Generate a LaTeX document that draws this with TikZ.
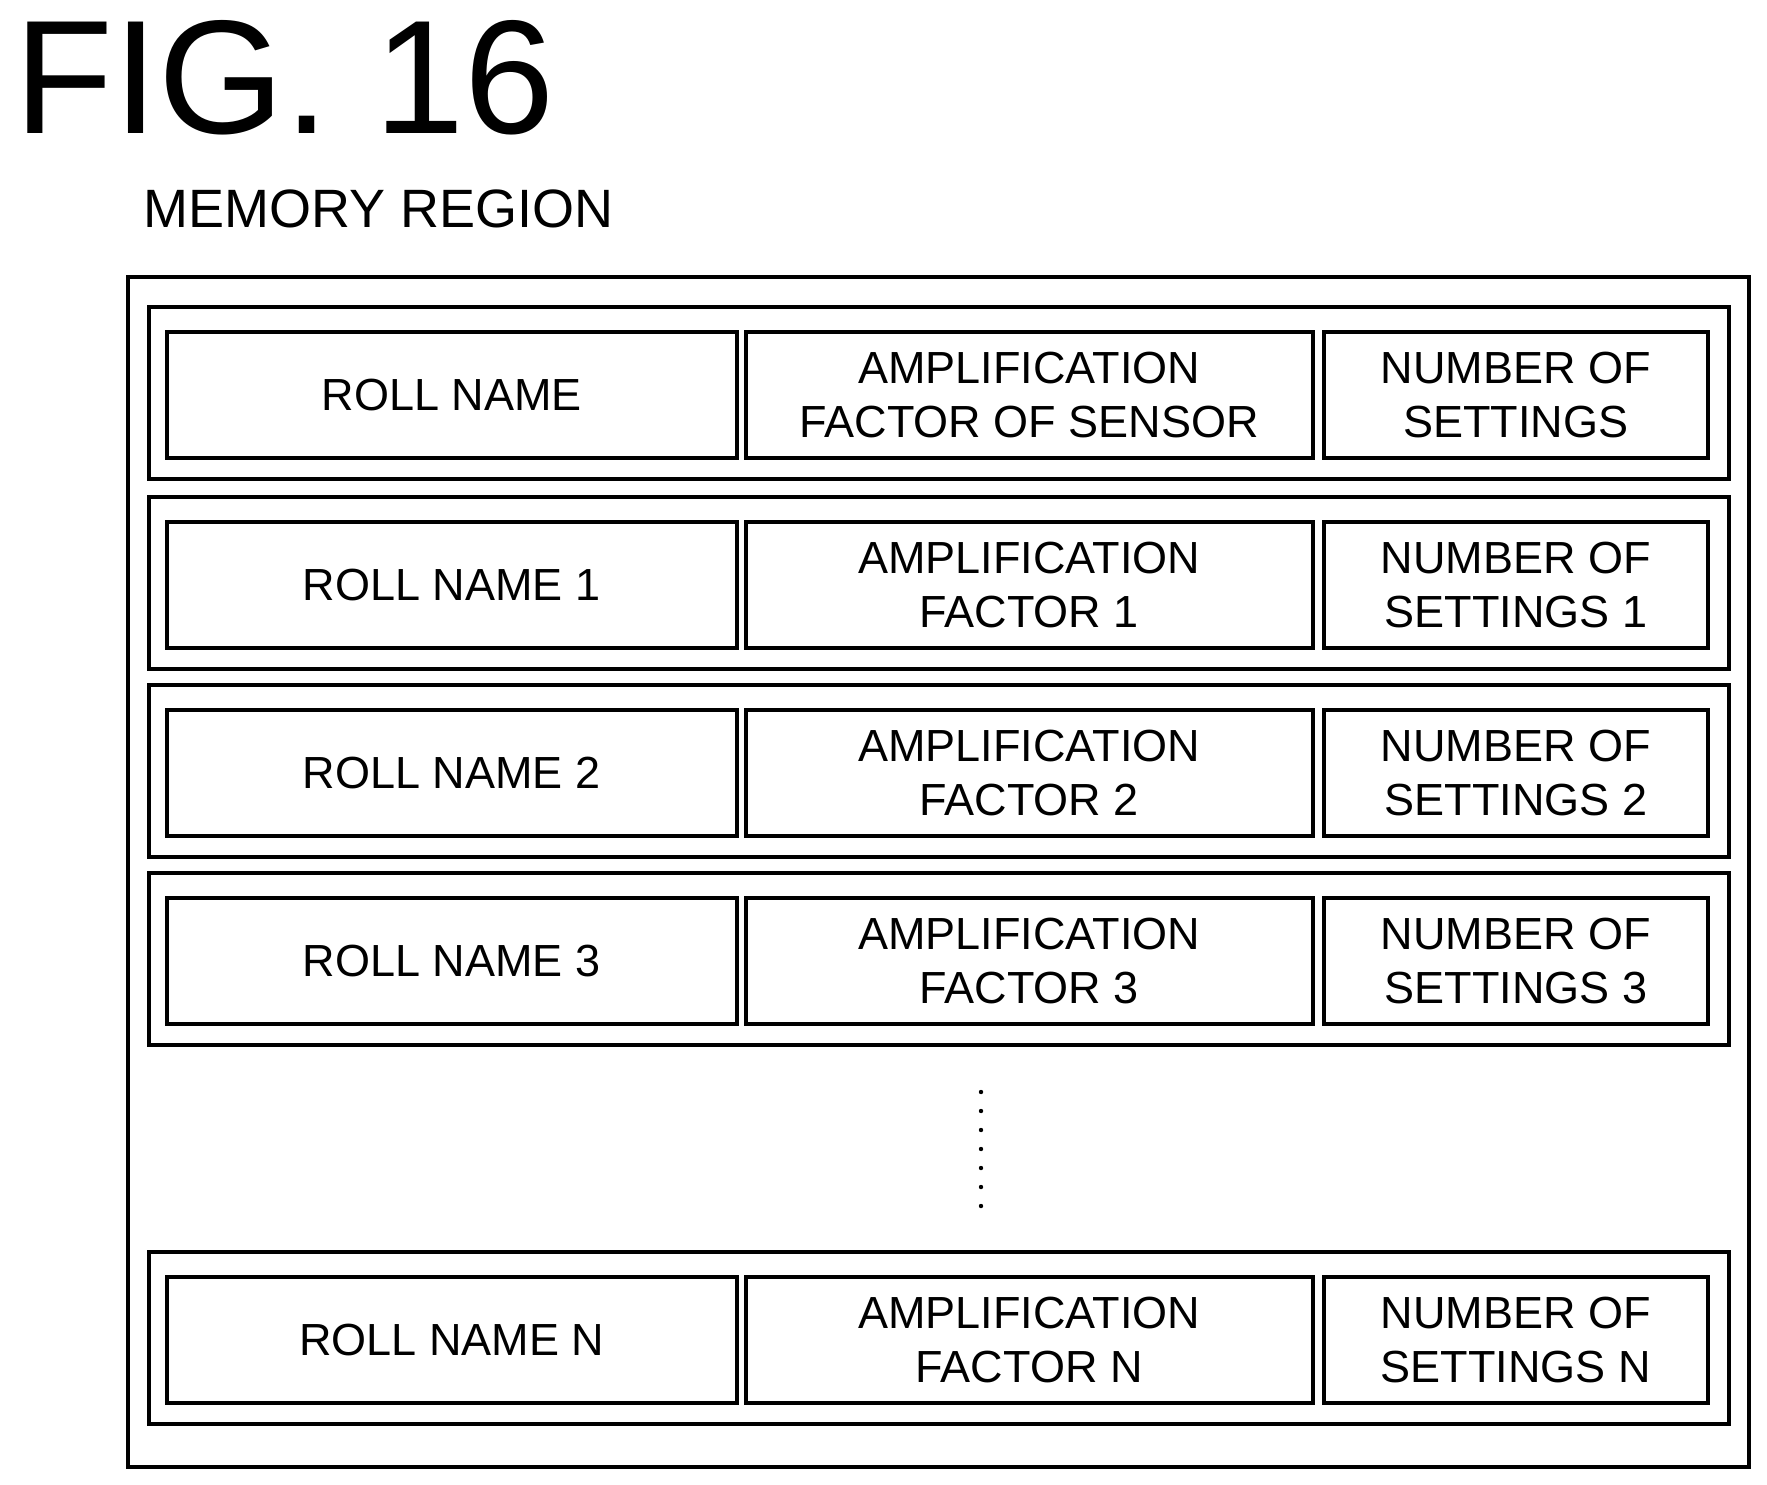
\documentclass[tikz,border=0pt]{standalone}
\usepackage{fontspec}
\setmainfont{Liberation Sans}
\usetikzlibrary{positioning}

\begin{document}
\begin{tikzpicture}[x=1pt,y=-1pt,
		cell/.style={draw,line width=3.5pt,inner sep=0pt,align=center,font=\fontsize{45}{54}\selectfont,minimum height=126pt},
		frame/.style={draw,line width=3.5pt}]
				\useasboundingbox (0,0) rectangle (1767,1485);
				\node[anchor=north west,inner sep=0pt,font=\fontsize{162}{162}\selectfont] (fig) at (14,20) {FIG. 16};
				\node[anchor=north west,inner sep=0pt,font=\fontsize{54}{60}\selectfont] (title) at (143,190) {MEMORY REGION};
				\draw[frame] (128,277) rectangle (1749,1467);
				% rows: top y, first, second, third text
				\foreach \y/\n/\a/\b/\c in {
						307/r0/ROLL NAME/AMPLIFICATION\\FACTOR OF SENSOR/NUMBER OF\\SETTINGS,
						497/r1/ROLL NAME 1/AMPLIFICATION\\FACTOR 1/NUMBER OF\\SETTINGS 1,
						685/r2/ROLL NAME 2/AMPLIFICATION\\FACTOR 2/NUMBER OF\\SETTINGS 2,
						873/r3/ROLL NAME 3/AMPLIFICATION\\FACTOR 3/NUMBER OF\\SETTINGS 3,
						1252/rN/ROLL NAME N/AMPLIFICATION\\FACTOR N/NUMBER OF\\SETTINGS N}{
						\draw[frame] (149,\y) rectangle (1729,\y+172);
						\node[cell,minimum width=570pt,anchor=north west] (\n a) at (165,\y+23) {\a};
						\node[cell,minimum width=567pt,anchor=north west] (\n b) at (744,\y+23) {\b};
						\node[cell,minimum width=384pt,anchor=north west] (\n c) at (1322,\y+23) {\c};
				}
				\foreach \d in {0,...,6}
						\fill (981,1092+\d*19) circle (2.2pt);
			\end{tikzpicture}
\end{document}
